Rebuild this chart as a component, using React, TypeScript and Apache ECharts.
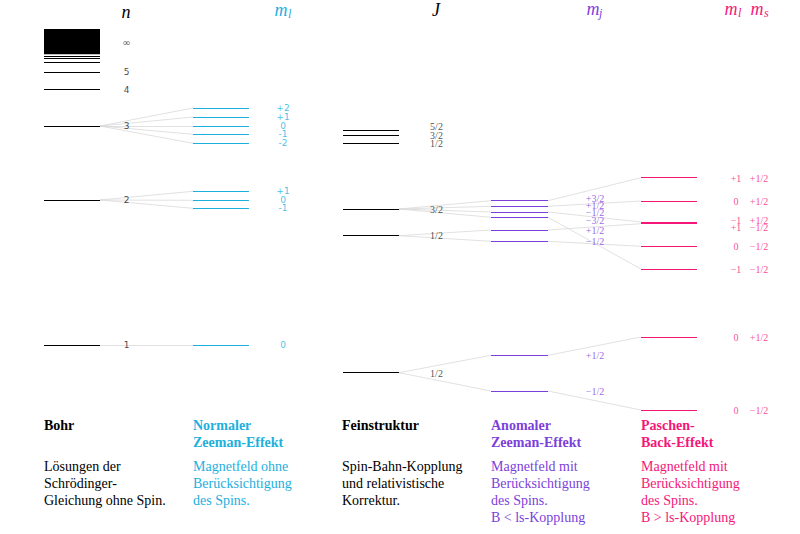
import React, { useEffect, useRef } from 'react';
import * as echarts from 'echarts';

// ---------- data (energy positions in diagram units) ----------
// Bohr levels
const bohrNames = ['1', '2', '3', '4', '5'];
const bohrEnergies = [345, 200, 126, 89.5, 72.3];
const bohrHighLevels = [62.7, 58.3, 56]; // n = 6, 7, 8
const bohrContinuum = [29, 54.3]; // n >= 9 ... infinity
const bohrInfLabelEnergy = 42;

// Normal Zeeman effect
const zeemanParent = [2, 2, 2, 2, 2, 1, 1, 1, 0]; // index into Bohr levels
const zeemanMl = ['+2', '+1', '0', '-1', '-2', '+1', '0', '-1', '0'];
const zeemanEnergies = [108, 117, 126, 134.3, 143.3, 191.3, 200.3, 208.3, 345];

// Fine structure
const fineJ = ['5/2', '3/2', '1/2', '3/2', '1/2', '1/2'];
const fineEnergies = [130.7, 135, 143.3, 209, 235.7, 372.7];
const fineLabelEnergies = [126.5, 135.3, 143.8, 209, 235.5, 373];

// Anomalous Zeeman effect
const anomParent = [3, 3, 3, 3, 4, 4, 5, 5]; // index into fine levels
const anomMj = ['+3/2', '+1/2', '\u22121/2', '\u22123/2', '+1/2', '\u22121/2', '+1/2', '\u22121/2'];
const anomEnergies = [200.7, 206.3, 212, 217.3, 230, 241.3, 355.3, 391];
const anomLabelEnergies = [198.5, 205.7, 212.7, 220.3, 230, 241, 355.5, 391];

// Paschen-Back effect
const pbParent = [0, 1, 2, 4, 5, 3, 6, 7]; // index into anomalous levels
const pbMl = ['+1', '0', '\u22121', '+1', '0', '\u22121', '0', '0'];
const pbMs = ['+1/2', '+1/2', '+1/2', '\u22121/2', '\u22121/2', '\u22121/2', '+1/2', '\u22121/2'];
const pbEnergies = [177.7, 201, 222, 223.7, 246.3, 269, 337, 410];
const pbLabelEnergies = [178, 201, 220, 227.5, 246.5, 269, 337, 410];

// Column texts
const columnTitles = ['Bohr', 'Normaler\nZeeman-Effekt', 'Feinstruktur', 'Anomaler\nZeeman-Effekt', 'Paschen-\nBack-Effekt'];
const columnDescriptions = [
  'Lösungen der\nSchrödinger-\nGleichung ohne Spin.',
  'Magnetfeld ohne\nBerücksichtigung\ndes Spins.',
  'Spin-Bahn-Kopplung\nund relativistische\nKorrektur.',
  'Magnetfeld mit\nBerücksichtigung\ndes Spins.\nB < ls-Kopplung',
  'Magnetfeld mit\nBerücksichtigung\ndes Spins.\nB > ls-Kopplung',
];

// ---------- layout ----------
const COL = {
  bohr: [44, 100],
  zee: [193, 249],
  fine: [343, 399],
  anom: [491, 548],
  pb: [641, 697],
};
const LABEL_X = { bohr: 126.5, zee: 283, fine: 436.5, anom: 595, pbMl: 736, pbMs: 759 };
const COLORS = ['#000000', '#1cb0de', '#000000', '#7b3fdb', '#f5167a'];
const COLUMN_X = [44, 193, 342, 491, 641];
const GREY = '#d9d9d9';
const SERIF = '"Liberation Serif", "Times New Roman", serif';
const SANS = '"DejaVu Sans", sans-serif';

function levelSeries(color: string, span: number[], energies: number[]) {
  return {
    type: 'lines',
    coordinateSystem: 'cartesian2d',
    silent: true,
    z: 3,
    lineStyle: { color, width: 1, opacity: 1 },
    data: energies.map((e) => ({ coords: [[span[0], e], [span[1], e]] })),
  };
}

function connectorSeries(fromX: number, toX: number, pairs: number[][]) {
  return {
    type: 'lines',
    coordinateSystem: 'cartesian2d',
    silent: true,
    z: 2,
    lineStyle: { color: GREY, width: 0.8, opacity: 1 },
    data: pairs.map(([a, b]) => ({ coords: [[fromX, a], [toX, b]] })),
  };
}

function labelSeries(x: number, energies: number[], names: string[], color: string, family: string, size: number) {
  return {
    type: 'scatter',
    silent: true,
    z: 5,
    symbolSize: 1,
    itemStyle: { color: 'rgba(0,0,0,0)' },
    label: {
      show: true,
      position: 'inside',
      formatter: '{b}',
      color,
      fontFamily: family,
      fontSize: size,
    },
    data: energies.map((e, i) => ({ value: [x, e], name: names[i] })),
  };
}

function headerText(x: number, y: number, text: string, color: string, size: number, align = 'center') {
  return {
    type: 'text',
    x,
    y,
    silent: true,
    style: {
      text,
      fill: color,
      fontFamily: SERIF,
      fontStyle: 'italic',
      fontSize: size,
      align,
      verticalAlign: 'middle',
    },
  };
}

export default function App() {
  const ref = useRef<HTMLDivElement>(null);
  useEffect(() => {
    const chart = echarts.init(ref.current!, null, { renderer: 'svg' });

    const series: any[] = [
      // continuum block
      {
        type: 'custom',
        coordinateSystem: 'cartesian2d',
        silent: true,
        z: 3,
        encode: { x: [0, 2], y: [1, 3] },
        renderItem: (params: any, api: any) => {
          const p0 = api.coord([api.value(0), api.value(1)]);
          const p1 = api.coord([api.value(2), api.value(3)]);
          return {
            type: 'rect',
            shape: { x: p0[0], y: p0[1], width: p1[0] - p0[0], height: p1[1] - p0[1] },
            style: { fill: '#000' },
          };
        },
        data: [[COL.bohr[0], bohrContinuum[0], COL.bohr[1], bohrContinuum[1]]],
      },
      levelSeries('#000', COL.bohr, bohrEnergies),
      levelSeries('#000', COL.bohr, bohrHighLevels),
      levelSeries(COLORS[1], COL.zee, zeemanEnergies),
      levelSeries('#000', COL.fine, fineEnergies),
      levelSeries(COLORS[3], COL.anom, anomEnergies),
      levelSeries(COLORS[4], COL.pb, pbEnergies),
      connectorSeries(
        COL.bohr[1],
        COL.zee[0],
        zeemanEnergies.map((e, i) => [bohrEnergies[zeemanParent[i]], e])
      ),
      connectorSeries(
        COL.fine[1],
        COL.anom[0],
        anomEnergies.map((e, i) => [fineEnergies[anomParent[i]], e])
      ),
      connectorSeries(
        COL.anom[1],
        COL.pb[0],
        pbEnergies.map((e, i) => [anomEnergies[pbParent[i]], e])
      ),
      labelSeries(LABEL_X.bohr, bohrEnergies, bohrNames, '#111', SANS, 9),
      labelSeries(LABEL_X.bohr, [bohrInfLabelEnergy], ['\u221E'], '#222', SANS, 10),
      labelSeries(LABEL_X.zee, zeemanEnergies, zeemanMl, COLORS[1], SANS, 9),
      labelSeries(LABEL_X.fine, fineLabelEnergies, fineJ, '#222', SERIF, 10),
      labelSeries(LABEL_X.anom, anomLabelEnergies, anomMj, COLORS[3], SERIF, 10),
      labelSeries(LABEL_X.pbMl, pbLabelEnergies, pbMl, COLORS[4], SERIF, 10),
      labelSeries(LABEL_X.pbMs, pbLabelEnergies, pbMs, COLORS[4], SERIF, 10),
    ];

    const graphics: any[] = [
      headerText(126, 12, 'n', '#000', 18),
      headerText(281, 10, 'm', COLORS[1], 18),
      headerText(288, 14, 'l', COLORS[1], 12, 'left'),
      headerText(436, 10, 'J', '#000', 18),
      headerText(593, 9, 'm', COLORS[3], 18),
      headerText(599, 13, 'j', COLORS[3], 12, 'left'),
      headerText(731, 9, 'm', COLORS[4], 18),
      headerText(738, 13, 'l', COLORS[4], 12, 'left'),
      headerText(757, 9, 'm', COLORS[4], 18),
      headerText(764, 13, 's', COLORS[4], 12, 'left'),
    ];
    columnTitles.forEach((t, i) => {
      graphics.push({
        type: 'text',
        x: COLUMN_X[i],
        y: 416.5,
        silent: true,
        style: {
          text: t,
          fill: COLORS[i],
          fontFamily: SERIF,
          fontWeight: 'bold',
          fontSize: 14,
          lineHeight: 17.5,
          align: 'left',
          verticalAlign: 'top',
        },
      });
    });
    columnDescriptions.forEach((t, i) => {
      graphics.push({
        type: 'text',
        x: COLUMN_X[i],
        y: 458.2,
        silent: true,
        style: {
          text: t,
          fill: COLORS[i],
          fontFamily: SERIF,
          fontSize: 14,
          lineHeight: 17,
          align: 'left',
          verticalAlign: 'top',
        },
      });
    });

    chart.setOption({
      animation: false,
      backgroundColor: '#ffffff',
      grid: { left: 0, right: 0, top: 0, bottom: 0 },
      xAxis: { type: 'value', min: 0, max: 800, show: false },
      yAxis: { type: 'value', min: 0, max: 534, inverse: true, show: false },
      series,
      graphic: graphics,
    });
    return () => chart.dispose();
  }, []);
  return (
    <div
      ref={ref}
      style={{ position: 'fixed', left: 0, top: 0, width: 800, height: 534, background: '#fff' }}
    />
  );
}
